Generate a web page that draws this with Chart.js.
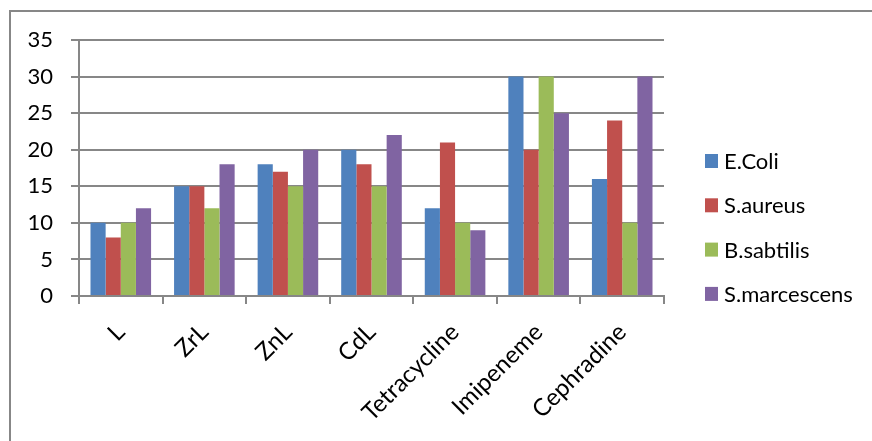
<!DOCTYPE html>
<html>
<head>
<meta charset="utf-8">
<script src="https://cdn.jsdelivr.net/npm/chart.js@4.4.1/dist/chart.umd.min.js"></script>
<style>
  html, body { margin: 0; padding: 0; background: #fff; }
  canvas { display: block; }
</style>
</head>
<body>
<canvas id="chart" width="872" height="441"></canvas>
<script>
// Inhibition zone values per compound / drug
const categories = ['L', 'ZrL', 'ZnL', 'CdL', 'Tetracycline', 'Imipeneme', 'Cephradine'];
const seriesNames = ['E.Coli', 'S.aureus', 'B.sabtilis', 'S.marcescens'];
const eColi = [10, 15, 18, 20, 12, 30, 16];
const sAureus = [8, 15, 17, 18, 21, 20, 24];
const bSabtilis = [10, 12, 15, 15, 10, 30, 10];
const sMarcescens = [12, 18, 20, 22, 9, 25, 30];
const yTicks = [0, 5, 10, 15, 20, 25, 30, 35];

const colors = ['#4F81BD', '#C0504D', '#9BBB59', '#8064A2'];
const values = [eColi, sAureus, bSabtilis, sMarcescens];
const FONT = 'Lato, "Open Sans", sans-serif';
const LINE = '#878787';

// Frame around the chart (top and left edges visible)
const framePlugin = {
  id: 'frame',
  beforeDraw(chart) {
    const ctx = chart.ctx;
    ctx.save();
    ctx.fillStyle = '#fff';
    ctx.fillRect(0, 0, chart.width, chart.height);
    ctx.strokeStyle = LINE;
    ctx.lineWidth = 2;
    ctx.beginPath();
    ctx.moveTo(10, chart.height + 5);
    ctx.lineTo(10, 11);
    ctx.lineTo(chart.width + 5, 11);
    ctx.stroke();
    ctx.restore();
  }
};

// Legend drawn as a vertical list to the right of the plot
const sideLegend = {
  id: 'sideLegend',
  afterDraw(chart) {
    const ctx = chart.ctx;
    ctx.save();
    ctx.font = '22px ' + FONT;
    ctx.textBaseline = 'middle';
    ctx.textAlign = 'left';
    chart.data.datasets.forEach((ds, i) => {
      const cy = 161 + i * 44.3;
      ctx.fillStyle = ds.backgroundColor;
      ctx.fillRect(705, cy - 7, 13, 14);
      ctx.fillStyle = '#000';
      ctx.fillText(ds.label, 724, cy + 1);
    });
    ctx.restore();
  }
};

new Chart(document.getElementById('chart'), {
  type: 'bar',
  data: {
    labels: categories,
    datasets: seriesNames.map((name, i) => ({
      label: name,
      data: values[i],
      backgroundColor: colors[i],
      borderWidth: 0,
      categoryPercentage: 0.725,
      barPercentage: 1.0
    }))
  },
  options: {
    responsive: false,
    animation: false,
    devicePixelRatio: 1,
    layout: { padding: { left: 0, top: 40, right: 208, bottom: 0 } },
    plugins: {
      legend: { display: false },
      tooltip: { enabled: false }
    },
    scales: {
      x: {
        afterFit(scale) { scale.height = 145; },
        grid: {
          display: true,
          offset: true,
          drawOnChartArea: false,
          drawTicks: true,
          tickLength: 8,
          color: LINE,
          lineWidth: 2
        },
        border: { display: true, color: LINE, width: 2 },
        ticks: {
          color: '#000',
          font: { family: FONT, size: 24 },
          minRotation: 45,
          maxRotation: 45,
          padding: 14,
          autoSkip: false
        }
      },
      y: {
        min: 0,
        max: 35,
        afterFit(scale) { scale.width = 79; },
        afterBuildTicks(scale) { scale.ticks = yTicks.map(v => ({ value: v })); },
        grid: {
          color: LINE,
          lineWidth: 2,
          drawTicks: true,
          tickLength: 8
        },
        border: { display: true, color: LINE, width: 2 },
        ticks: {
          color: '#000',
          font: { family: FONT, size: 22 },
          padding: 18
        }
      }
    }
  },
  plugins: [framePlugin, sideLegend]
});
</script>
</body>
</html>
